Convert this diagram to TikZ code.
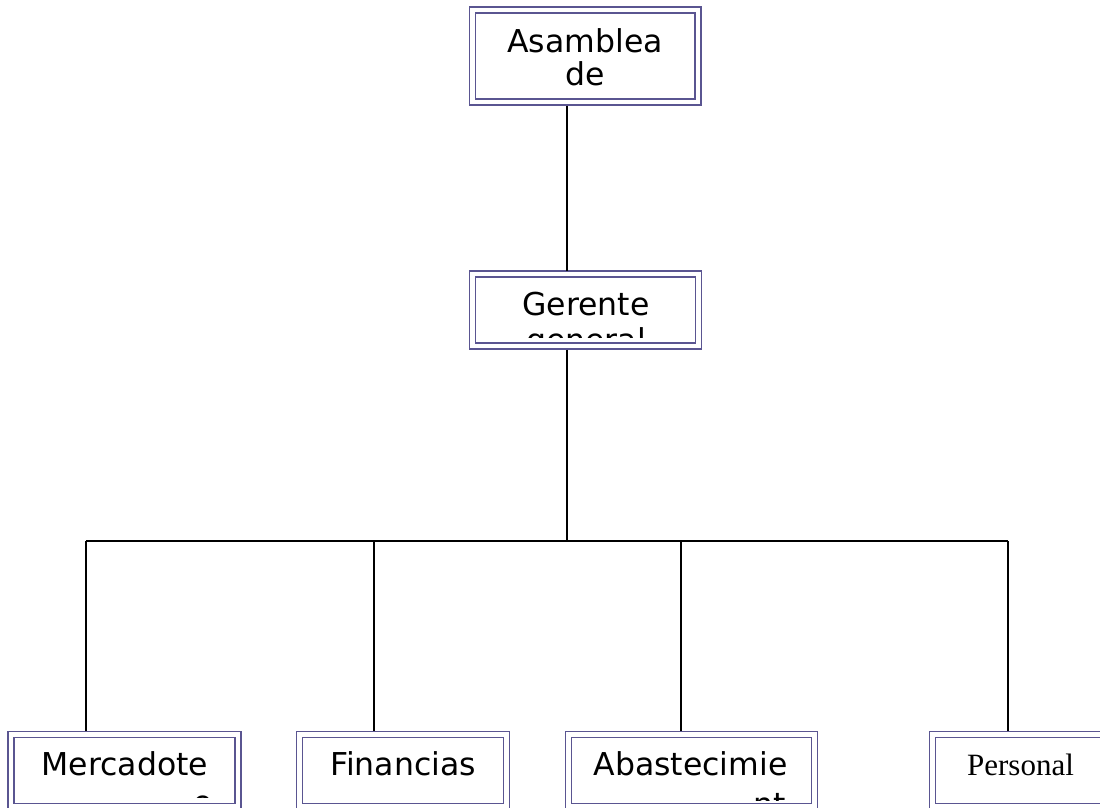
\documentclass[tikz,border=0pt]{standalone}
\usepackage{fontspec}
\setmainfont{DejaVu Sans}
\newfontfamily\serifpers{Liberation Serif}
\definecolor{boxline}{RGB}{90,85,145}
\begin{document}
\begin{tikzpicture}[x=1pt,y=-1pt,
  orgbox/.style={rectangle, draw=boxline, line width=1.1pt, double=white, double distance=4.9pt, outer sep=3.5pt, inner sep=0pt},
  conn/.style={draw=black, line width=2pt},
  lbl/.style={anchor=base, inner sep=0pt, font=\fontsize{31.5}{33}\selectfont},
  plbl/.style={anchor=base, inner sep=0pt, font=\serifpers\fontsize{31}{33}\selectfont}]
\useasboundingbox (0,0) rectangle (1100,807);

% boxes
\node[orgbox, minimum width=225.5pt, minimum height=92pt] (asm) at (585.25,56) {};
\node[orgbox, minimum width=226pt, minimum height=72pt] (ger) at (585.5,310) {};
\node[orgbox, minimum width=227pt, minimum height=72pt] (mer) at (124.5,770.5) {};
\node[orgbox, minimum width=207pt, minimum height=72pt] (fin) at (403,770.5) {};
\node[orgbox, minimum width=246pt, minimum height=72pt] (aba) at (691.5,770.5) {};
\node[orgbox, minimum width=176pt, minimum height=72pt] (per) at (1020.5,770.5) {};

% texts
\begin{scope}
  \clip (476,13) rectangle (694,99);
  \node[lbl] (asmA) at (585,52) {Asamblea};
  \node[lbl] (asmB) at (585,85) {de};
\end{scope}
\begin{scope}
  \clip (476,277) rectangle (696,337);
  \node[lbl] (gerA) at (586,315) {Gerente};
  \node[lbl] (gerB) at (586,351) {general};
\end{scope}
\begin{scope}
  \clip (14,737) rectangle (235,797);
  \node[lbl] (merA) at (125,775) {Mercadote};
  \node[lbl] (merB) at (203,813) {o};
\end{scope}
\begin{scope}
  \clip (302,737) rectangle (503,797);
  \node[lbl] (finA) at (403,775) {Financias};
\end{scope}
\begin{scope}
  \clip (572,737) rectangle (811,800);
  \node[lbl] (abaA) at (690.5,775) {Abastecimie};
  \node[lbl, anchor=base west] (abaB) at (753,815) {nt};
\end{scope}
\begin{scope}
  \clip (936,737) rectangle (1105,803);
  \node[plbl] (perA) at (1020.5,775) {Personal};
\end{scope}

% connectors
\coordinate (spine) at (566.5,541);
\coordinate (b1) at (86,541);
\coordinate (b2) at (374,541);
\coordinate (b3) at (681,541);
\coordinate (b4) at (1008,541);
\draw[conn] (asm.south -| spine) -- (ger.north -| spine);
\draw[conn] (ger.south -| spine) -- (spine);
\draw[conn] (b1) -- (b4);
\draw[conn] (b1) -- (b1 |- mer.north);
\draw[conn] (b2) -- (b2 |- fin.north);
\draw[conn] (b3) -- (b3 |- aba.north);
\draw[conn] (b4) -- (b4 |- per.north);
\end{tikzpicture}
\end{document}
